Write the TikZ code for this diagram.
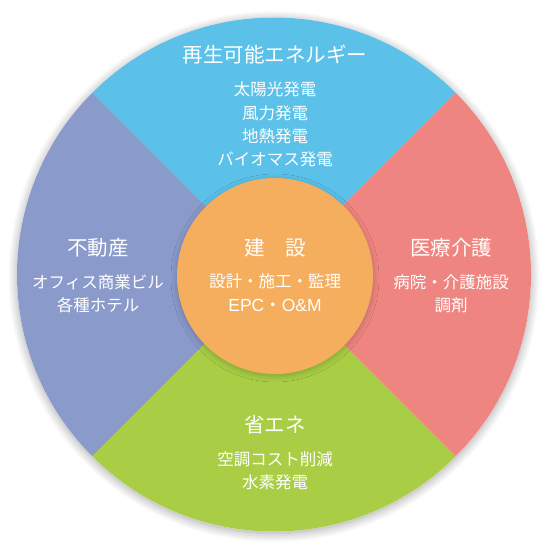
\documentclass[tikz,border=0pt]{standalone}
\usepackage{fontspec}
\setmainfont{Noto Sans CJK JP}
\newfontfamily\latinfont{Liberation Sans}
\usetikzlibrary{shadows.blur}
\definecolor{cblue}{HTML}{5BC1E8}
\definecolor{cred}{HTML}{EF8580}
\definecolor{cgreen}{HTML}{A9CE45}
\definecolor{cpurple}{HTML}{8A9ACB}
\definecolor{corange}{HTML}{F4AE5E}
\tikzset{
  title/.style={text=white, font=\fontsize{20.5}{24}\selectfont, inner sep=0pt},
  sub/.style={text=white, font=\fontsize{16.5}{19}\selectfont, inner sep=0pt},
  outershadow/.style={blur shadow={shadow blur steps=12, shadow xshift=0pt, shadow yshift=-2pt, shadow blur radius=9pt, shadow opacity=35}},
  innershadow/.style={blur shadow={shadow blur steps=10, shadow xshift=0pt, shadow yshift=-2pt, shadow blur radius=6pt, shadow opacity=22}},
}
\begin{document}
\begin{tikzpicture}[x=1pt,y=-1pt]
\useasboundingbox (0,0) rectangle (550,551);
\coordinate (C) at (274,274.5);
\node[circle, minimum size=514pt, inner sep=0pt, fill=white, outershadow] (outer) at (C) {};
\fill[cblue] (C) -- ++(45:257pt) arc[start angle=45, end angle=135, radius=257pt] -- cycle;
\fill[cpurple] (C) -- ++(135:257pt) arc[start angle=135, end angle=225, radius=257pt] -- cycle;
\fill[cgreen] (C) -- ++(225:257pt) arc[start angle=225, end angle=315, radius=257pt] -- cycle;
\fill[cred] (C) -- ++(315:257pt) arc[start angle=315, end angle=405, radius=257pt] -- cycle;
\node[circle, minimum size=196pt, inner sep=0pt, fill=corange, innershadow] (inner) at (275,276) {};
% top
\node[title] (t0) at (275,55) {再生可能エネルギー};
\node[sub] (t1) at (275,89) {太陽光発電};
\node[sub] (t2) at (275,113) {風力発電};
\node[sub] (t3) at (275,136) {地熱発電};
\node[sub] (t4) at (275,159) {バイオマス発電};
% center
\node[title] (c0) at (275,248) {建　設};
\node[sub] (c1) at (275,281) {設計・施工・監理};
\node[sub, font=\fontsize{17.5}{20}\selectfont] (c2) at (275,305) {{\latinfont EPC}・{\latinfont O\&M}};
% right
\node[title] (r0) at (451,248) {医療介護};
\node[sub] (r1) at (451,282) {病院・介護施設};
\node[sub] (r2) at (451,305) {調剤};
% left
\node[title] (l0) at (98,248) {不動産};
\node[sub] (l1) at (98,282) {オフィス商業ビル};
\node[sub] (l2) at (98,305) {各種ホテル};
% bottom
\node[title] (b0) at (275,425) {省エネ};
\node[sub] (b1) at (275,459) {空調コスト削減};
\node[sub] (b2) at (275,482) {水素発電};
\end{tikzpicture}
\end{document}
